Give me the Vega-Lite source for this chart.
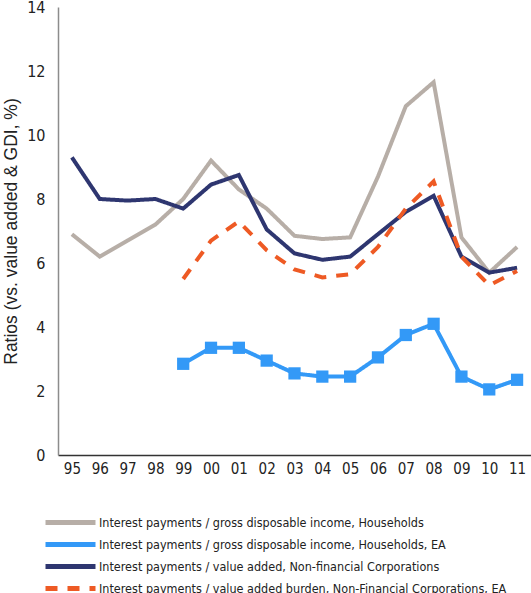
{
  "$schema": "https://vega.github.io/schema/vega-lite/v6.json",
  "autosize": {"type": "none"},
  "padding": {"left": 58, "top": 7, "right": 0, "bottom": 138},
  "width": 473,
  "height": 448,
  "background": "white",
  "config": {"view": {"stroke": null}},
  "datasets": {
    "series": [
      {"year":"95","series":"Interest payments / gross disposable income, Households","value":6.9},
      {"year":"96","series":"Interest payments / gross disposable income, Households","value":6.2},
      {"year":"97","series":"Interest payments / gross disposable income, Households","value":6.7},
      {"year":"98","series":"Interest payments / gross disposable income, Households","value":7.2},
      {"year":"99","series":"Interest payments / gross disposable income, Households","value":8.0},
      {"year":"00","series":"Interest payments / gross disposable income, Households","value":9.2},
      {"year":"01","series":"Interest payments / gross disposable income, Households","value":8.3},
      {"year":"02","series":"Interest payments / gross disposable income, Households","value":7.7},
      {"year":"03","series":"Interest payments / gross disposable income, Households","value":6.85},
      {"year":"04","series":"Interest payments / gross disposable income, Households","value":6.75},
      {"year":"05","series":"Interest payments / gross disposable income, Households","value":6.8},
      {"year":"06","series":"Interest payments / gross disposable income, Households","value":8.7},
      {"year":"07","series":"Interest payments / gross disposable income, Households","value":10.9},
      {"year":"08","series":"Interest payments / gross disposable income, Households","value":11.65},
      {"year":"09","series":"Interest payments / gross disposable income, Households","value":6.8},
      {"year":"10","series":"Interest payments / gross disposable income, Households","value":5.7},
      {"year":"11","series":"Interest payments / gross disposable income, Households","value":6.5},
      {"year":"99","series":"Interest payments / gross disposable income, Households, EA","value":2.85},
      {"year":"00","series":"Interest payments / gross disposable income, Households, EA","value":3.35},
      {"year":"01","series":"Interest payments / gross disposable income, Households, EA","value":3.35},
      {"year":"02","series":"Interest payments / gross disposable income, Households, EA","value":2.95},
      {"year":"03","series":"Interest payments / gross disposable income, Households, EA","value":2.55},
      {"year":"04","series":"Interest payments / gross disposable income, Households, EA","value":2.45},
      {"year":"05","series":"Interest payments / gross disposable income, Households, EA","value":2.45},
      {"year":"06","series":"Interest payments / gross disposable income, Households, EA","value":3.05},
      {"year":"07","series":"Interest payments / gross disposable income, Households, EA","value":3.75},
      {"year":"08","series":"Interest payments / gross disposable income, Households, EA","value":4.1},
      {"year":"09","series":"Interest payments / gross disposable income, Households, EA","value":2.45},
      {"year":"10","series":"Interest payments / gross disposable income, Households, EA","value":2.05},
      {"year":"11","series":"Interest payments / gross disposable income, Households, EA","value":2.35},
      {"year":"95","series":"Interest payments / value added, Non-financial Corporations","value":9.3},
      {"year":"96","series":"Interest payments / value added, Non-financial Corporations","value":8.0},
      {"year":"97","series":"Interest payments / value added, Non-financial Corporations","value":7.95},
      {"year":"98","series":"Interest payments / value added, Non-financial Corporations","value":8.0},
      {"year":"99","series":"Interest payments / value added, Non-financial Corporations","value":7.7},
      {"year":"00","series":"Interest payments / value added, Non-financial Corporations","value":8.45},
      {"year":"01","series":"Interest payments / value added, Non-financial Corporations","value":8.75},
      {"year":"02","series":"Interest payments / value added, Non-financial Corporations","value":7.05},
      {"year":"03","series":"Interest payments / value added, Non-financial Corporations","value":6.3},
      {"year":"04","series":"Interest payments / value added, Non-financial Corporations","value":6.1},
      {"year":"05","series":"Interest payments / value added, Non-financial Corporations","value":6.2},
      {"year":"06","series":"Interest payments / value added, Non-financial Corporations","value":6.9},
      {"year":"07","series":"Interest payments / value added, Non-financial Corporations","value":7.6},
      {"year":"08","series":"Interest payments / value added, Non-financial Corporations","value":8.1},
      {"year":"09","series":"Interest payments / value added, Non-financial Corporations","value":6.2},
      {"year":"10","series":"Interest payments / value added, Non-financial Corporations","value":5.7},
      {"year":"11","series":"Interest payments / value added, Non-financial Corporations","value":5.85},
      {"year":"99","series":"Interest payments / value added burden, Non-Financial Corporations, EA","value":5.5},
      {"year":"00","series":"Interest payments / value added burden, Non-Financial Corporations, EA","value":6.7},
      {"year":"01","series":"Interest payments / value added burden, Non-Financial Corporations, EA","value":7.3},
      {"year":"02","series":"Interest payments / value added burden, Non-Financial Corporations, EA","value":6.4},
      {"year":"03","series":"Interest payments / value added burden, Non-Financial Corporations, EA","value":5.8},
      {"year":"04","series":"Interest payments / value added burden, Non-Financial Corporations, EA","value":5.55},
      {"year":"05","series":"Interest payments / value added burden, Non-Financial Corporations, EA","value":5.65},
      {"year":"06","series":"Interest payments / value added burden, Non-Financial Corporations, EA","value":6.5},
      {"year":"07","series":"Interest payments / value added burden, Non-Financial Corporations, EA","value":7.7},
      {"year":"08","series":"Interest payments / value added burden, Non-Financial Corporations, EA","value":8.55},
      {"year":"09","series":"Interest payments / value added burden, Non-Financial Corporations, EA","value":6.2},
      {"year":"10","series":"Interest payments / value added burden, Non-Financial Corporations, EA","value":5.3},
      {"year":"11","series":"Interest payments / value added burden, Non-Financial Corporations, EA","value":5.75}
    ]
  },
  "data": {"name": "series"},
  "encoding": {
    "x": {
      "field": "year", "type": "ordinal",
      "sort": ["95","96","97","98","99","00","01","02","03","04","05","06","07","08","09","10","11"],
      "scale": {"type": "point", "padding": 0.5},
      "axis": {
        "title": null, "labelAngle": 0, "ticks": false, "domainColor": "#333333", "domainWidth": 1.5,
        "labelFont": "DejaVu Sans Condensed", "labelFontSize": 15, "labelColor": "#222222", "labelPadding": 6
      }
    },
    "y": {
      "field": "value", "type": "quantitative",
      "scale": {"domain": [0, 14], "nice": false},
      "axis": {
        "title": "Ratios (vs. value added & GDI, %)", "values": [0,2,4,6,8,10,12,14],
        "grid": false, "ticks": false, "domainColor": "#8c8c8c", "domainWidth": 1.5,
        "labelFont": "DejaVu Sans Condensed", "labelFontSize": 16, "labelColor": "#222222", "labelPadding": 13,
        "titleFont": "Liberation Sans", "titleFontSize": 17.5, "titleFontWeight": "normal", "titleColor": "#222222",
        "titlePadding": 6
      }
    }
  },
  "layer": [
    {
      "mark": {"type": "line", "strokeWidth": 4},
      "encoding": {
        "color": {
          "field": "series", "type": "nominal",
          "scale": {
            "domain": [
              "Interest payments / gross disposable income, Households",
              "Interest payments / gross disposable income, Households, EA",
              "Interest payments / value added, Non-financial Corporations",
              "Interest payments / value added burden, Non-Financial Corporations, EA"
            ],
            "range": ["#b7aea7", "#3399f7", "#2e3670", "#ee5a24"]
          },
          "legend": {
            "title": null, "orient": "none", "legendX": -15, "legendY": 508,
            "labelFont": "DejaVu Sans Condensed", "labelFontSize": 12.5, "labelColor": "#222222",
            "labelLimit": 600, "symbolType": "M-1,0H9", "symbolSize": 100, "symbolStrokeWidth": 5,
            "rowPadding": 1, "labelOffset": 41
          }
        },
        "strokeDash": {
          "field": "series", "type": "nominal",
          "scale": {
            "domain": [
              "Interest payments / gross disposable income, Households",
              "Interest payments / gross disposable income, Households, EA",
              "Interest payments / value added, Non-financial Corporations",
              "Interest payments / value added burden, Non-Financial Corporations, EA"
            ],
            "range": [[1, 0], [1, 0], [1, 0], [12, 10]]
          },
          "legend": null
        }
      }
    },
    {
      "transform": [{"filter": "datum.series === 'Interest payments / gross disposable income, Households, EA'"}],
      "mark": {"type": "point", "shape": "square", "filled": true, "opacity": 1, "size": 150, "color": "#3399f7"}
    }
  ]
}
